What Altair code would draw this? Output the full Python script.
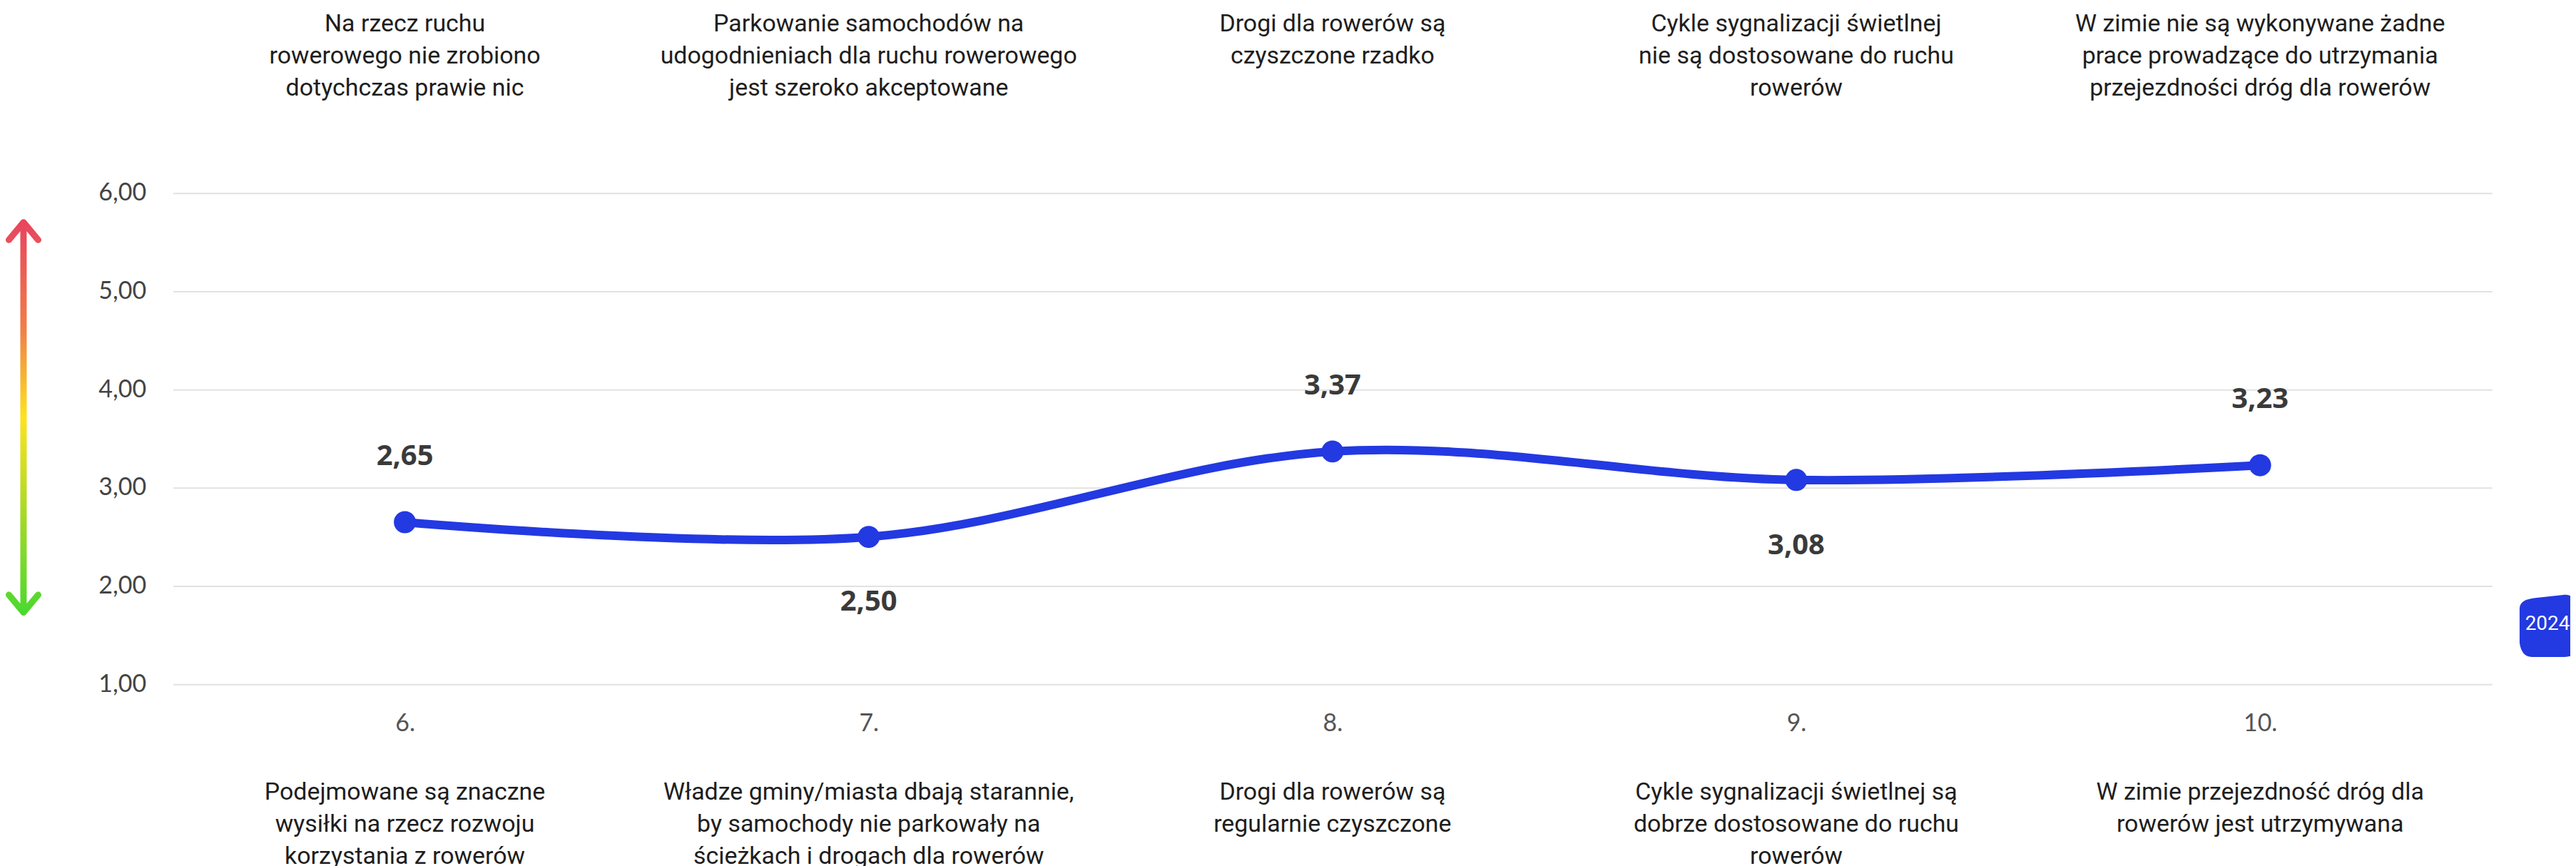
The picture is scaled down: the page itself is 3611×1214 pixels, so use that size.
import altair as alt
import pandas as pd

# ---------------- data ----------------
categories = ["6.", "7.", "8.", "9.", "10."]
values = [2.65, 2.50, 3.37, 3.08, 3.23]
top_texts = [
    "Na rzecz ruchu\nrowerowego nie zrobiono\ndotychczas prawie nic",
    "Parkowanie samochodów na\nudogodnieniach dla ruchu rowerowego\njest szeroko akceptowane",
    "Drogi dla rowerów są\nczyszczone rzadko",
    "Cykle sygnalizacji świetlnej\nnie są dostosowane do ruchu\nrowerów",
    "W zimie nie są wykonywane żadne\nprace prowadzące do utrzymania\nprzejezdności dróg dla rowerów",
]
bottom_texts = [
    "Podejmowane są znaczne\nwysiłki na rzecz rozwoju\nkorzystania z rowerów",
    "Władze gminy/miasta dbają starannie,\nby samochody nie parkowały na\nścieżkach i drogach dla rowerów",
    "Drogi dla rowerów są\nregularnie czyszczone",
    "Cykle sygnalizacji świetlnej są\ndobrze dostosowane do ruchu\nrowerów",
    "W zimie przejezdność dróg dla\nrowerów jest utrzymywana",
]
series_name = "2024"
y_ticks = [1, 2, 3, 4, 5, 6]

# label below the point when the point is a local minimum
below = []
for i, v in enumerate(values):
    left = values[i - 1] if i > 0 else float("inf")
    right = values[i + 1] if i < len(values) - 1 else float("inf")
    below.append(v < left and v < right)

df = pd.DataFrame({
    "cat": categories,
    "value": values,
    "top": top_texts,
    "bottom": bottom_texts,
    "below": below,
})
df["label"] = [f"{v:.2f}".replace(".", ",") for v in values]

BLUE = "#2339E2"

x_enc = alt.X(
    "cat:O", sort=categories,
    axis=alt.Axis(title=None, labelFont="Lato", labelFontSize=34, labelColor="#555555",
                  ticks=False, domain=False, labelPadding=38, labelAngle=0, grid=False),
)
y_enc = alt.Y(
    "value:Q",
    scale=alt.Scale(domain=[1, 6], nice=False, zero=False),
    axis=alt.Axis(values=y_ticks, title=None,
                  labelExpr="replace(format(datum.value, '.2f'), '.', ',')",
                  labelFont="Lato", labelFontSize=34, labelColor="#444444",
                  ticks=False, domain=False, labelPadding=38,
                  gridColor="#e2e2e2", gridWidth=2),
)

base = alt.Chart(df)

line = base.mark_line(color=BLUE, strokeWidth=12, interpolate="cardinal").encode(x=x_enc, y=y_enc)
points = base.mark_circle(size=960, color=BLUE, opacity=1).encode(x=x_enc, y=y_enc)

lab_above = base.transform_filter("!datum.below").mark_text(
    dy=-92, fontSize=40, fontWeight="bold", font="Open Sans", color="#3a3a3a", baseline="middle"
).encode(x=x_enc, y=y_enc, text="label:N")
lab_below = base.transform_filter("datum.below").mark_text(
    dy=92, fontSize=40, fontWeight="bold", font="Open Sans", color="#3a3a3a", baseline="middle"
).encode(x=x_enc, y=y_enc, text="label:N")

top_txt = base.mark_text(
    lineBreak="\n", align="center", baseline="alphabetic", fontSize=34, font="Roboto",
    lineHeight=45, color="#1e1e1e"
).encode(x=x_enc, y=alt.value(-227), text="top:N")
bottom_txt = base.mark_text(
    lineBreak="\n", align="center", baseline="alphabetic", fontSize=34, font="Roboto",
    lineHeight=45, color="#1e1e1e"
).encode(x=x_enc, y=alt.value(852), text="bottom:N")

# gradient double arrow (decoration)
arrow_path = ("M0,-1 L0,1 M-0.075,-0.91 L0,-1 L0.075,-0.91 "
              "M-0.075,0.91 L0,1 L0.075,0.91")
grad = alt.LinearGradient(
    gradient="linear", x1=0, y1=0, x2=0, y2=1,
    stops=[
        alt.GradientStop(color="#e8455f", offset=0),
        alt.GradientStop(color="#f07d48", offset=0.27),
        alt.GradientStop(color="#fde31f", offset=0.5),
        alt.GradientStop(color="#a6d927", offset=0.75),
        alt.GradientStop(color="#4cd92f", offset=1),
    ],
)
deco = alt.Chart(pd.DataFrame({"series": [series_name]}))
arrow = deco.mark_point(
    shape=arrow_path, size=300304, filled=False, stroke=grad, strokeWidth=9,
    strokeCap="round", strokeJoin="round", opacity=1
).encode(x=alt.value(-210), y=alt.value(315))

blob_path = ("M-0.9,-0.5 C-0.92,-0.78 -0.72,-0.86 -0.4,-0.9 L0.5,-1 "
             "C0.8,-1.02 1,-0.85 1,-0.55 L1,0.55 C1,0.85 0.85,1 0.55,1 "
             "L-0.5,1 C-0.75,1 -0.86,0.82 -0.9,0.55 Z")
badge = deco.mark_point(
    shape=blob_path, size=7600, filled=True, fill=BLUE, strokeWidth=0, opacity=1
).encode(x=alt.value(3336), y=alt.value(608))
badge_txt = deco.mark_text(
    font="Roboto", fontSize=28, color="white", align="center", baseline="middle"
).encode(x=alt.value(3336), y=alt.value(606), text="series:N")

chart = alt.layer(
    line, points, lab_above, lab_below, top_txt, bottom_txt, arrow, badge, badge_txt
).properties(
    width=3258, height=690,
    autosize=alt.AutoSizeParams(type="none"),
    padding={"left": 235, "top": 262, "right": 110, "bottom": 262},
    background="white",
).configure_view(stroke=None)

chart.save("out.html", embed_options={"renderer": "svg", "actions": False})
